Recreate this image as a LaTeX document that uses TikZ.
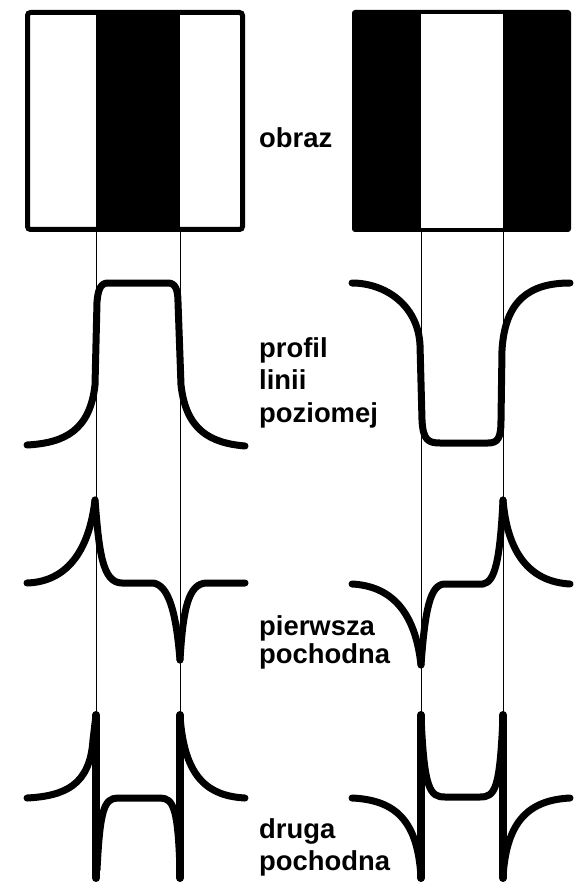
\documentclass[tikz,border=0pt]{standalone}
\usepackage{fontspec}
\setmainfont{Liberation Sans}
\begin{document}
\begin{tikzpicture}[x=1pt,y=-1pt,
  lbl/.style={anchor=base west,inner sep=0pt,font=\bfseries\fontsize{27.4}{28}\selectfont},
  curve/.style={line width=7pt,line cap=round,line join=round},
  spike/.style={line width=8pt,line cap=round},
  guide/.style={line width=0.9pt},
  frame/.style={line width=5pt,rounded corners=3pt}]
\useasboundingbox (0,0) rectangle (576,885);
% images
\fill[white] (27.5,12.5) rectangle (242.5,229.5);
\fill[black] (96,12.5) rectangle (180,229.5);
\draw[frame] (27.5,12.5) rectangle (242.5,229.5);
\fill[black,rounded corners=3pt] (352,10) rectangle (571,232);
\fill[white] (421,14) rectangle (503,228);
% guide coordinates
\coordinate (a1) at (96,230); \coordinate (a2) at (96,880);
\coordinate (b1) at (180,230); \coordinate (b2) at (180,880);
\coordinate (c1) at (421,230); \coordinate (c2) at (421,880);
\coordinate (d1) at (503,230); \coordinate (d2) at (503,880);
\draw[guide] (a1) -- (a2);
\draw[guide] (b1) -- (b2);
\draw[guide] (c1) -- (c2);
\draw[guide] (d1) -- (d2);
% labels
\node[lbl] (t1) at (259,148) {obraz};
\node[lbl] (t2) at (259,357) {profil};
\node[lbl] (t3) at (259,389) {linii};
\node[lbl] (t4) at (259,422) {poziomej};
\node[lbl] (t5) at (259,635) {pierwsza};
\node[lbl] (t6) at (259,663) {pochodna};
\node[lbl] (t7) at (259,838) {druga};
\node[lbl] (t8) at (259,870) {pochodna};
% profile left
\draw[curve] (27,445) .. controls (65,443) and (90,430) .. (95,385) -- (97,302)
  .. controls (98,289) and (101,283) .. (108,283) -- (168,283)
  .. controls (175,283) and (178,289) .. (178,302) -- (181,385)
  .. controls (186,430) and (210,443) .. (245,446);
% profile right
\draw[curve] (352,283) .. controls (385,283) and (418,305) .. (420,345) -- (422,420)
  .. controls (423,440) and (428,443) .. (440,443) -- (488,443)
  .. controls (498,443) and (501,438) .. (501,420) -- (502,350)
  .. controls (505,300) and (530,283) .. (570,283);
% first derivative left
\draw[curve] (27,583) .. controls (60,582) and (88,560) .. (95,500);
\draw[curve] (95,500) .. controls (99,550) and (102,583) .. (122,583) -- (153,583)
  .. controls (168,585) and (176,610) .. (180,660);
\draw[curve] (180,660) .. controls (183,610) and (188,583) .. (207,583) -- (245,583);
% first derivative right
\draw[curve] (352,584) .. controls (390,586) and (415,610) .. (421,665);
\draw[curve] (421,665) .. controls (425,610) and (430,584) .. (445,584) -- (483,584)
  .. controls (495,582) and (500,560) .. (503,500);
\draw[curve] (503,500) .. controls (508,560) and (535,582) .. (570,584);
% second derivative left
\draw[curve] (27,798) .. controls (65,796) and (90,785) .. (93,740) -- (96,715);
\draw[spike] (96,715) -- (96,878);
\draw[curve] (97,870) .. controls (100,810) and (104,798) .. (118,798) -- (160,798)
  .. controls (174,798) and (178,810) .. (180,870);
\draw[spike] (180,715) -- (180,878);
\draw[curve] (180,715) .. controls (184,780) and (210,796) .. (245,798);
% second derivative right
\draw[curve] (352,798) .. controls (395,800) and (418,820) .. (421,878);
\draw[spike] (421,715) -- (421,878);
\draw[curve] (421,715) .. controls (424,790) and (430,797) .. (445,797) -- (480,797)
  .. controls (495,797) and (500,790) .. (503,715);
\draw[spike] (503,715) -- (503,878);
\draw[curve] (503,878) .. controls (506,820) and (530,800) .. (570,798);
\end{tikzpicture}
\end{document}
